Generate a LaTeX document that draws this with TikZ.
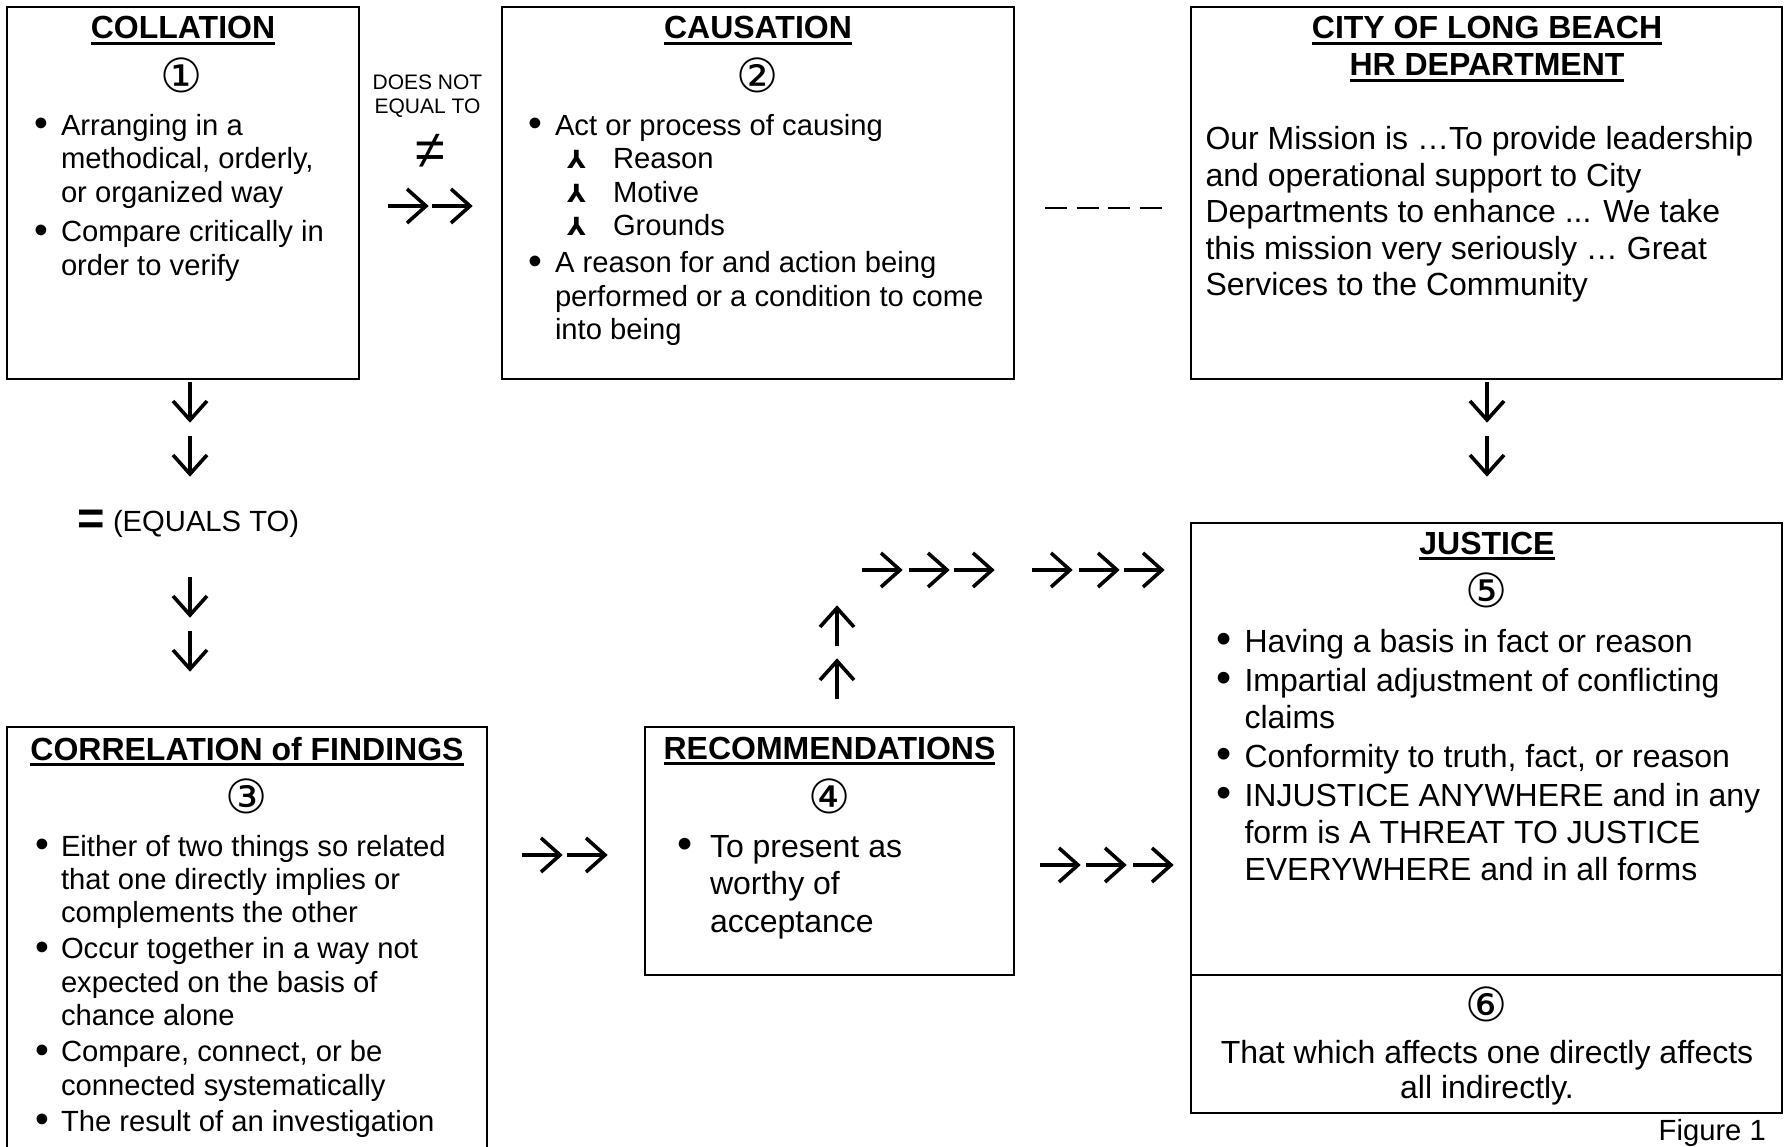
\documentclass[tikz,border=0pt]{standalone}
\usepackage{fontspec}
\usepackage{graphicx}
\setmainfont{Liberation Sans}
\newfontfamily\dejavu{DejaVu Sans}

\newcommand\ul[1]{\setbox0=\hbox{#1}\rlap{\vrule height -2.8pt depth 6.2pt width \wd0}\box0}
\newcommand\fsA{\fontsize{29.2pt}{33.5pt}\selectfont}
\newcommand\fsB{\fontsize{32pt}{37pt}\selectfont}
\newcommand\fsT{\fontsize{32pt}{37pt}\selectfont\bfseries}
\newcommand\fsC{\dejavu\fontsize{47pt}{47pt}\selectfont}
\newcommand\fsS{\fontsize{21pt}{24pt}\selectfont}
\newcommand\bigdot{\raisebox{-1.2pt}{\scalebox{1.35}{•}}}
\newcommand\lblock[3]{\vtop{\hsize=#1\relax\parindent=0pt\parskip=#2\relax\lineskiplimit=-100pt\leftskip=0pt\rightskip=0pt plus 1fil\relax\parfillskip=0pt plus 1fil\relax #3\par}}
\newcommand\bitem[2]{\hangindent=#1\relax\hangafter=1 \noindent\hbox to #1{\bigdot\hss}#2\par}
\newcommand\sbitem[1]{\noindent\hspace*{39pt}\hbox to 46pt{{\dejavu\bfseries\fontsize{25pt}{25pt}\selectfont ⅄}\hss}#1\par}
\newcommand\cstack[2]{\vtop{\baselineskip=#1\relax\lineskiplimit=-100pt\halign{\hfil##\hfil\cr #2\crcr}}}

\begin{document}
\begin{tikzpicture}[x=1pt, y=-1pt,
  boxn/.style={draw, line width=2pt, rectangle, inner sep=0pt},
  txt/.style={inner sep=0pt, outer sep=0pt, anchor=base west},
  ctr/.style={inner sep=0pt, outer sep=0pt, anchor=base},
  num/.style={inner sep=0pt, outer sep=0pt, anchor=center, font=\fsC},
  arrowline/.style={line width=3.6pt, line cap=butt, line join=miter},
  garrow/.pic={\draw[arrowline] (-20,0) -- (18,0); \draw[arrowline] (-1,-17) -- (18,0) -- (-1,17);},
  dashline/.style={line width=1.6pt, dash pattern=on 22pt off 9.5pt}
]
\useasboundingbox (0,0) rectangle (1784,1147);
\fill[white] (0,0) rectangle (1784,1147);

% boxes
\node[boxn, minimum width=352pt, minimum height=372pt] (collation) at (183,193) {};
\node[boxn, minimum width=512pt, minimum height=372pt] (causation) at (758,193) {};
\node[boxn, minimum width=591pt, minimum height=372pt] (hr) at (1486.5,193) {};
\node[boxn, minimum width=369pt, minimum height=248pt] (recom) at (829.5,851) {};
\node[boxn, minimum width=591pt, minimum height=590pt] (justice) at (1486.5,818) {};
\coordinate (divL) at (1191,975);
\coordinate (divR) at (1782,975);
\draw[line width=2pt] (divL) -- (divR);
\coordinate (corrBL) at (7,1150);
\coordinate (corrTL) at (7,727);
\coordinate (corrTR) at (487,727);
\coordinate (corrBR) at (487,1150);
\draw[line width=2pt] (corrBL) -- (corrTL) -- (corrTR) -- (corrBR);

% dashed link
\coordinate (dashA) at (1045,208);
\coordinate (dashB) at (1162,208);
\draw[dashline] (dashA) -- (dashB);

% glyph arrows
\foreach \x in {408,452} \pic at (\x,206) {garrow};
\foreach \x in {542,587} \pic at (\x,855) {garrow};
\foreach \x in {882,929,974,1052,1099,1144} \pic at (\x,570) {garrow};
\foreach \x in {1060,1106,1153} \pic at (\x,865) {garrow};
\foreach \y in {402,456,597,651} \pic[rotate=-90] at (190,\y) {garrow};
\foreach \y in {402,456} \pic[rotate=-90] at (1487,\y) {garrow};
\foreach \y in {626,679} \pic[rotate=90] at (837,\y) {garrow};

% box 1
\node[ctr] (t1) at (183,39) {\fsT\ul{COLLATION}};
\node[num] (n1) at (182,75) {①};
\node[txt] (b1) at (34,135.5) {\lblock{320pt}{6pt}{\fsA\bitem{27pt}{Arranging in a\newline methodical, orderly,\newline or organized way}\bitem{27pt}{Compare critically in\newline order to verify}}};

% between 1 and 2
\node[ctr] (dne) at (427.5,90) {\fsS\cstack{24pt}{DOES NOT\cr EQUAL TO}};
\node[inner sep=0pt] (neq) at (430,151) {\fontsize{54pt}{54pt}\selectfont ≠};

% box 2
\node[ctr] (t2) at (758,39) {\fsT\ul{CAUSATION}};
\node[num] (n2) at (758,75) {②};
\node[txt] (b2) at (528,135.5) {\lblock{480pt}{0pt}{\fsA
  \bitem{27pt}{Act or process of causing}
  \sbitem{Reason}\sbitem{Motive}\sbitem{Grounds}
  \vskip3.4pt
  \bitem{27pt}{A reason for and action being\newline performed or a condition to come\newline into being}}};

% HR box
\node[ctr] (t3) at (1487,39) {\fsT\cstack{37pt}{\ul{CITY OF LONG BEACH}\cr \ul{HR DEPARTMENT}}};
\node[txt] (b3) at (1205.5,149.5) {\lblock{800pt}{0pt}{\fontsize{32pt}{36.6pt}\selectfont Our Mission is …To provide leadership\newline and operational support to City\newline Departments to enhance ... We take\newline this mission very seriously … Great\newline Services to the Community}};

% equals
\node[ctr] (eq) at (91.5,534) {\fontsize{47pt}{47pt}\selectfont\bfseries =};
\node[txt] (eqt) at (113,531) {\fsA (EQUALS TO)};

% box 3
\node[ctr] (t4) at (247,760) {\fsT\ul{CORRELATION of FINDINGS}};
\node[num] (n3) at (247,796) {③};
\node[txt] (b4) at (35,856) {\lblock{450pt}{3pt}{\fontsize{29.2pt}{33.3pt}\selectfont
  \bitem{26pt}{Either of two things so related\newline that one directly implies or\newline complements the other}
  \bitem{26pt}{Occur together in a way not\newline expected on the basis of\newline chance alone}
  \bitem{26pt}{Compare, connect, or be\newline connected systematically}
  \bitem{26pt}{The result of an investigation}}};

% box 4
\node[ctr] (t5) at (829.5,759) {\fsT\ul{RECOMMENDATIONS}};
\node[num] (n4) at (829.5,796) {④};
\node[txt] (b5) at (677.5,857) {\lblock{330pt}{0pt}{\fontsize{32pt}{37.5pt}\selectfont\bitem{32.5pt}{To present as\newline worthy of\newline acceptance}}};

% justice
\node[ctr] (t6) at (1487,554) {\fsT\ul{JUSTICE}};
\node[num] (n5) at (1487,590) {⑤};
\node[txt] (b6) at (1216.5,652) {\lblock{800pt}{2pt}{\fontsize{32pt}{37pt}\selectfont
  \bitem{28pt}{Having a basis in fact or reason}
  \bitem{28pt}{Impartial adjustment of conflicting\newline claims}
  \bitem{28pt}{Conformity to truth, fact, or reason}
  \bitem{28pt}{INJUSTICE ANYWHERE and in any\newline form is A THREAT TO JUSTICE\newline EVERYWHERE and in all forms}}};
\node[num] (n6) at (1487,1004) {⑥};
\node[ctr] (b7) at (1487,1063) {\fsB\cstack{35pt}{That which affects one directly affects\cr all indirectly.}};

\node[inner sep=0pt, anchor=base east] (fig) at (1766,1140) {\fsA Figure 1};
\end{tikzpicture}
\end{document}
